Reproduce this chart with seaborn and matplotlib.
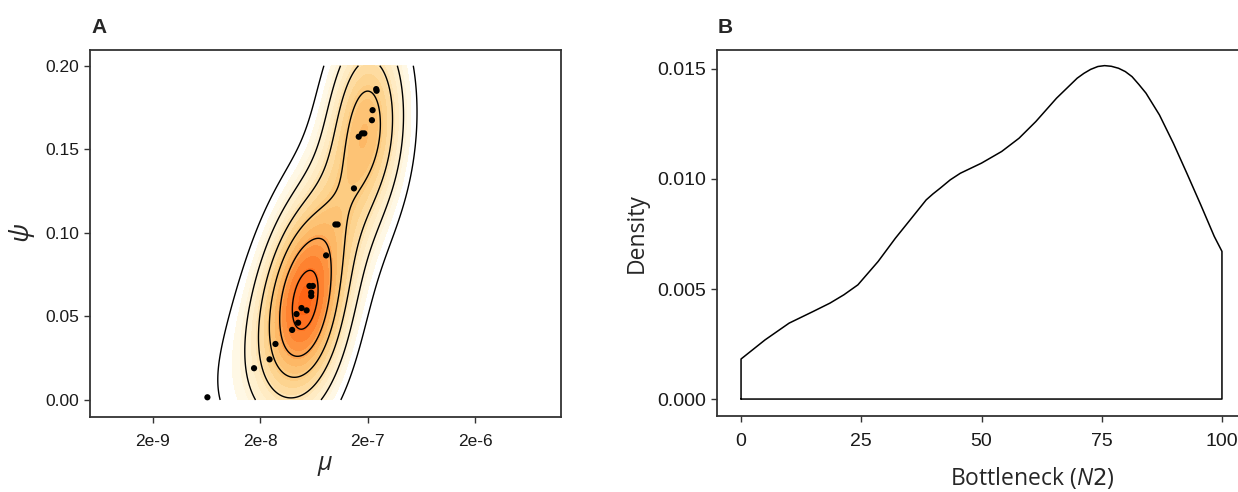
import numpy as np
import pandas as pd
import matplotlib
matplotlib.use("Agg")
import matplotlib.pyplot as plt
from matplotlib.colors import LinearSegmentedColormap
import seaborn as sns

# ---- Panel A: posterior samples (mu, psi); the blob top right counted twice ----
mu = [6.44e-9, 1.75e-8, 2.44e-8, 2.77e-8, 3.96e-8, 4.50e-8, 4.35e-8, 4.84e-8,
      5.40e-8, 5.74e-8, 6.17e-8, 5.96e-8, 5.96e-8, 8.20e-8, 1.00e-7, 1.05e-7,
      1.49e-7, 1.65e-7, 1.77e-7, 1.86e-7, 2.19e-7, 2.22e-7, 2.40e-7, 2.42e-7]
psi = [0.0016, 0.0190, 0.0243, 0.0335, 0.0419, 0.0462, 0.0514, 0.0550,
       0.0536, 0.0682, 0.0682, 0.0642, 0.0622, 0.0865, 0.1050, 0.1050,
       0.1266, 0.1575, 0.1595, 0.1595, 0.1674, 0.1734, 0.1860, 0.1850]
mu_ticks = [2e-9, 2e-8, 2e-7, 2e-6]
mu_ticklabels = ["2e-9", "2e-8", "2e-7", "2e-6"]
psi_ticks = [0.00, 0.05, 0.10, 0.15, 0.20]

# ---- Panel B: density of bottleneck size N2 ----
n2 = [0, 5, 10, 15, 18.5, 21.4, 24.3, 28.5, 32.1, 34.9, 38.5, 39.9, 41.4,
      43.5, 45.6, 47.8, 50, 54.2, 57.8, 61.3, 65.6, 69.9, 71.3, 72.7, 74.2,
      75.6, 77.0, 78.5, 79.9, 81.3, 82.7, 84.2, 87, 89.9, 92.7, 95.6, 98.4, 100]
n2_density = [0.00182, 0.00269, 0.00345, 0.00398, 0.00436, 0.00474, 0.00519,
              0.00625, 0.00731, 0.00807, 0.00905, 0.00932, 0.00958, 0.00996,
              0.01026, 0.01049, 0.01072, 0.01125, 0.01185, 0.01261, 0.01367,
              0.01458, 0.01480, 0.01498, 0.01511, 0.01515, 0.01512, 0.01503,
              0.01488, 0.01465, 0.01430, 0.01390, 0.01291, 0.01162, 0.01026,
              0.00882, 0.00739, 0.00671]
n2_ticks = [0, 25, 50, 75, 100]
dens_ticks = [0.000, 0.005, 0.010, 0.015]

sns.set_theme(style="white")
plt.rcParams["font.family"] = ["Liberation Sans", "DejaVu Sans"]
plt.rcParams["mathtext.fontset"] = "custom"
plt.rcParams["mathtext.it"] = "Open Sans:italic"

W, H = 1238, 492
fig = plt.figure(figsize=(W / 100, H / 100), dpi=100)


def px_axes(left, top, right, bottom):
    return fig.add_axes([left / W, 1 - bottom / H, (right - left) / W, (bottom - top) / H])


def style_axes(ax):
    for side in ["left", "bottom", "top", "right"]:
        ax.spines[side].set_visible(True)
        ax.spines[side].set_color("#333333")
        ax.spines[side].set_linewidth(1.3)
    ax.tick_params(axis="both", which="both", direction="out", length=4,
                   width=1.0, color="#333333", bottom=True, left=True)
    ax.tick_params(axis="both", which="minor", length=0)


def bandwidth_nrd(v):
    # same rule as MASS::bandwidth.nrd (used by ggplot's density_2d)
    q1, q3 = np.percentile(v, [25, 75])
    return 4 * 1.06 * min(np.std(v, ddof=1), (q3 - q1) / 1.34) * len(v) ** (-0.2)


# ==========================================
# Panel A
# ==========================================
axA = px_axes(90, 50, 561, 417)
XLIM_A = (5.2e-10, 1.26e-5)
BW_X, BW_Y = 1.15, 1.25
N_LEVELS = 6
PEAK_IN_STEPS = 6.4

# 2D kernel density of the samples, x on log10 scale, axis-aligned kernels
lx = np.log10(mu)
py = np.asarray(psi)
hx = BW_X * bandwidth_nrd(lx) / 4
hy = BW_Y * bandwidth_nrd(py) / 4
gx = np.linspace(np.log10(XLIM_A[0]), np.log10(XLIM_A[1]), 400)
gy = np.linspace(0.0, 0.2, 250)
kx = np.exp(-0.5 * ((gx[None, :] - lx[:, None]) / hx) ** 2)
ky = np.exp(-0.5 * ((gy[None, :] - py[:, None]) / hy) ** 2)
dens = ky.T @ kx / (2 * np.pi * hx * hy * len(lx))

step = dens.max() / PEAK_IN_STEPS
line_levels = step * np.arange(1, N_LEVELS + 1)
fill_levels = np.concatenate([step * np.arange(1.4, PEAK_IN_STEPS, 0.35), [dens.max() * 1.01]])

cmap = LinearSegmentedColormap.from_list(
    "ggorange", [(0.0, "#FFFAEA"), (0.25, "#FFEBC2"), (0.45, "#FDD591"),
                 (0.65, "#FDBC6A"), (0.8, "#FE9542"), (1.0, "#FF6414")])

axA.contourf(10 ** gx, gy, dens, levels=fill_levels, cmap=cmap,
             vmin=step * 1.4, vmax=dens.max(), zorder=1)
axA.contour(10 ** gx, gy, dens, levels=line_levels, colors="black",
            linewidths=1.0, zorder=2)
sns.scatterplot(x=mu, y=psi, color="black", s=20, edgecolor="none",
                ax=axA, zorder=5)

axA.set_xscale("log")
axA.set_xlim(*XLIM_A)
axA.set_ylim(-0.0102, 0.2094)
axA.set_xticks(mu_ticks)
axA.set_xticklabels(mu_ticklabels)
axA.set_yticks(psi_ticks)
axA.set_yticklabels([f"{v:.2f}" for v in psi_ticks])
style_axes(axA)
axA.tick_params(axis="both", labelsize=12.5, labelcolor="#1a1a1a", pad=4)
axA.tick_params(axis="x", pad=8)
axA.set_xlabel(r"$\mu$", fontsize=18, labelpad=4)
axA.set_ylabel(r"$\psi$", fontsize=19, labelpad=6)
fig.text(91 / W, 1 - 33 / H, "A", fontsize=15, fontweight="bold", ha="left")

# ==========================================
# Panel B
# ==========================================
axB = px_axes(717, 50, 1246, 416)
x_closed = [0] + n2 + [100, 0]
y_closed = [0] + n2_density + [0, 0]
dfB = pd.DataFrame({"N2": x_closed, "density": y_closed})
sns.lineplot(data=dfB, x="N2", y="density", sort=False, estimator=None,
             color="black", linewidth=1.1, ax=axB)

axB.set_xlim(-5, 105)
axB.set_ylim(-0.00077, 0.01586)
axB.set_xticks(n2_ticks)
axB.set_xticklabels([str(v) for v in n2_ticks])
axB.set_yticks(dens_ticks)
axB.set_yticklabels([f"{v:.3f}" for v in dens_ticks])
style_axes(axB)
axB.tick_params(axis="both", labelsize=14, labelcolor="#1a1a1a", pad=4)
axB.tick_params(axis="x", pad=8)
for lab in axB.get_xticklabels() + axB.get_yticklabels():
    lab.set_family(["Liberation Sans Narrow", "Liberation Sans"])
axB.set_xlabel(r"Bottleneck ($\mathit{N2}$)", fontsize=16.5, family="Open Sans")
axB.xaxis.set_label_coords((1032 - 717) / (1246 - 717), -0.135)
axB.set_ylabel("Density", fontsize=16.5, family="Open Sans", labelpad=6)
fig.text(718 / W, 1 - 33 / H, "B", fontsize=15, fontweight="bold", ha="left")

fig.savefig("out.png", dpi=100)
